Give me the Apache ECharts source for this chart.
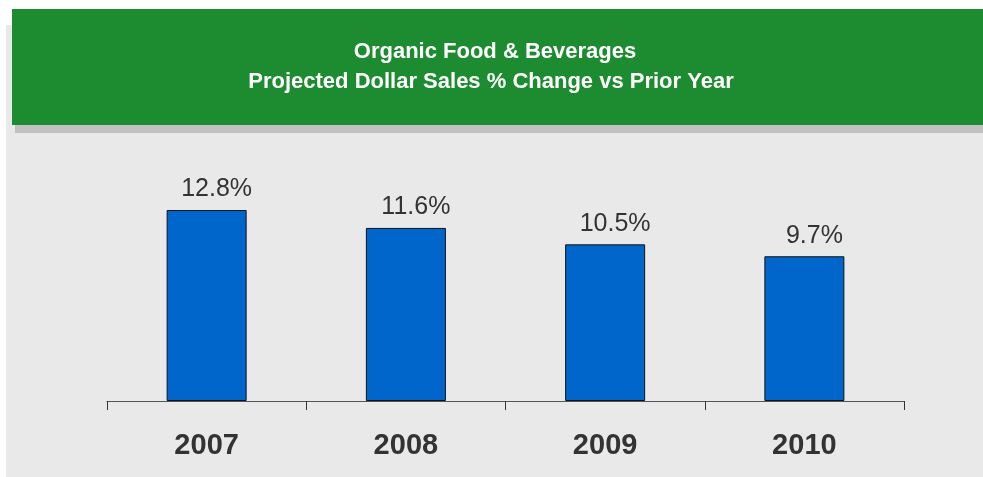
<!DOCTYPE html>
<html>
<head>
<meta charset="utf-8">
<script src="https://cdn.jsdelivr.net/npm/echarts@6/dist/echarts.min.js"></script>
<style>
  html, body { margin: 0; padding: 0; background: #fff; }
  #chart { width: 983px; height: 477px; }
</style>
</head>
<body>
<div id="chart"></div>
<script>
const years = ["2007", "2008", "2009", "2010"];
const salesChange = [12.8, 11.6, 10.5, 9.7];
const titleLines = ["Organic Food & Beverages", "Projected Dollar Sales % Change vs Prior Year"];

const chart = echarts.init(document.getElementById("chart"), null, { renderer: "canvas" });
const font = "Arial, 'Liberation Sans', sans-serif";

chart.setOption({
  backgroundColor: "#fff",
  animation: false,
  graphic: [
    { type: "rect", z: -10, shape: { x: 6, y: 25, width: 977, height: 452 }, style: { fill: "#e9e9e9" } },
    { type: "rect", z: -9, shape: { x: 15, y: 125, width: 968, height: 8 }, style: { fill: "#c1c1c1" } },
    { type: "rect", z: -8, shape: { x: 12, y: 9, width: 971, height: 116 }, style: { fill: "#1d8c30" } },
    {
      type: "text", z: 10, x: 495, y: 52,
      style: { text: titleLines[0], fill: "#fff", font: "bold 22px " + font, textAlign: "center", textVerticalAlign: "middle" }
    },
    {
      type: "text", z: 10, x: 491, y: 82,
      style: { text: titleLines[1], fill: "#fff", font: "bold 22px " + font, textAlign: "center", textVerticalAlign: "middle" }
    }
  ],
  grid: { left: 107, right: 79, top: 177.2, bottom: 76 },
  xAxis: {
    type: "category",
    data: years,
    axisLine: { lineStyle: { color: "#555", width: 1 } },
    axisTick: { show: true, length: 9, lineStyle: { color: "#333" } },
    axisLabel: { color: "#333", fontSize: 29, fontWeight: "bold", fontFamily: font, margin: 30 }
  },
  yAxis: {
    type: "value",
    min: 0,
    max: 15,
    show: false,
    splitLine: { show: false }
  },
  series: [{
    type: "bar",
    data: salesChange,
    barWidth: 80,
    itemStyle: { color: "#0066cc", borderColor: "#111", borderWidth: 1 },
    label: {
      show: true,
      position: "top",
      distance: 8,
      offset: [10, 0],
      color: "#333",
      fontSize: 25,
      fontFamily: font,
      formatter: p => p.value.toFixed(1) + "%"
    }
  }]
});
</script>
</body>
</html>
